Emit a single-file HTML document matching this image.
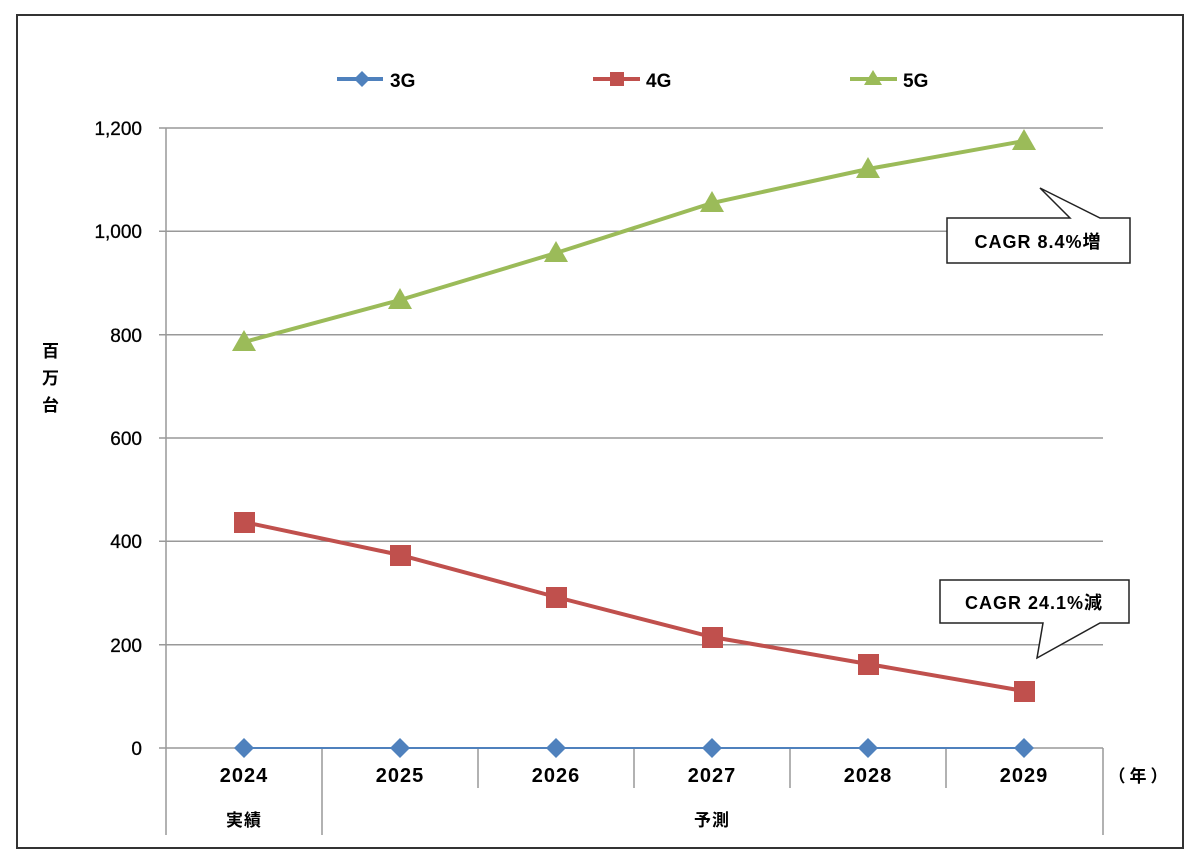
<!DOCTYPE html>
<html><head><meta charset="utf-8"><style>
html,body{margin:0;padding:0;background:#fff;}
svg{display:block;}
text{font-family:"Liberation Sans","Noto Sans CJK JP",sans-serif;fill:#000;}
</style></head><body>
<svg width="1200" height="865" viewBox="0 0 1200 865">
<rect x="17" y="15" width="1166" height="833" fill="#fff" stroke="#333" stroke-width="2"/>
<g stroke="#999" stroke-width="1.5">
<line x1="159" y1="128" x2="1103" y2="128"/>
<line x1="159" y1="231.3" x2="1103" y2="231.3"/>
<line x1="159" y1="334.7" x2="1103" y2="334.7"/>
<line x1="159" y1="438" x2="1103" y2="438"/>
<line x1="159" y1="541.3" x2="1103" y2="541.3"/>
<line x1="159" y1="644.7" x2="1103" y2="644.7"/>
<line x1="159" y1="748" x2="1103" y2="748"/>
<line x1="166" y1="128" x2="166" y2="835"/>
<line x1="322" y1="748" x2="322" y2="835"/>
<line x1="478" y1="748" x2="478" y2="788"/>
<line x1="634" y1="748" x2="634" y2="788"/>
<line x1="790" y1="748" x2="790" y2="788"/>
<line x1="946" y1="748" x2="946" y2="788"/>
<line x1="1103" y1="748" x2="1103" y2="835"/>
</g>
<g font-size="19" text-anchor="end" stroke="#000" stroke-width="0.3">
<text x="142" y="135">1,200</text>
<text x="142" y="238">1,000</text>
<text x="142" y="342">800</text>
<text x="142" y="445">600</text>
<text x="142" y="548">400</text>
<text x="142" y="652">200</text>
<text x="142" y="755">0</text>
</g>
<g font-size="17" font-weight="bold">
<text x="42" y="357">百</text><text x="42" y="384">万</text><text x="42" y="411">台</text>
</g>
<g font-size="20" font-weight="bold" text-anchor="middle" letter-spacing="1">
<text x="244" y="782">2024</text><text x="400" y="782">2025</text><text x="556" y="782">2026</text>
<text x="712" y="782">2027</text><text x="868" y="782">2028</text><text x="1024" y="782">2029</text>
<text x="244" y="826" font-size="17">実績</text><text x="712" y="826" font-size="17">予測</text>
<text x="1140" y="782" font-size="17" letter-spacing="4">（年）</text>
</g>
<!-- 3G -->
<polyline points="244,748 400,748 556,748 712,748 868,748 1024,748" fill="none" stroke="#4f81bd" stroke-width="2"/>
<g fill="#4f81bd">
<path d="M244,738l10,10l-10,10l-10,-10z"/><path d="M400,738l10,10l-10,10l-10,-10z"/><path d="M556,738l10,10l-10,10l-10,-10z"/>
<path d="M712,738l10,10l-10,10l-10,-10z"/><path d="M868,738l10,10l-10,10l-10,-10z"/><path d="M1024,738l10,10l-10,10l-10,-10z"/>
</g>
<!-- 4G -->
<polyline points="244,522 400,555 556,597 712,637 868,664 1024,691" fill="none" stroke="#c0504d" stroke-width="4"/>
<g fill="#c0504d">
<rect x="234" y="512" width="21" height="21"/><rect x="390" y="545" width="21" height="21"/><rect x="546" y="587" width="21" height="21"/>
<rect x="702" y="627" width="21" height="21"/><rect x="858" y="654" width="21" height="21"/><rect x="1014" y="681" width="21" height="21"/>
</g>
<!-- 5G -->
<polyline points="244,342 400,300 556,253 712,203 868,169 1024,141" fill="none" stroke="#9bbb59" stroke-width="4"/>
<g fill="#9bbb59">
<path d="M244,330l12,21h-24z"/><path d="M400,288l12,21h-24z"/><path d="M556,241l12,21h-24z"/>
<path d="M712,191l12,21h-24z"/><path d="M868,157l12,21h-24z"/><path d="M1024,129l12,21h-24z"/>
</g>
<!-- legend -->
<line x1="337" y1="79" x2="383" y2="79" stroke="#4f81bd" stroke-width="4"/>
<path d="M362,71l8,8l-8,8l-8,-8z" fill="#4f81bd"/>
<text x="390" y="87" font-size="19" font-weight="bold">3G</text>
<line x1="593" y1="79" x2="640" y2="79" stroke="#c0504d" stroke-width="4"/>
<rect x="610" y="72" width="14" height="14" fill="#c0504d"/>
<text x="646" y="87" font-size="19" font-weight="bold">4G</text>
<line x1="850" y1="79" x2="897" y2="79" stroke="#9bbb59" stroke-width="4"/>
<path d="M873,70l9,15h-18z" fill="#9bbb59"/>
<text x="903" y="87" font-size="19" font-weight="bold">5G</text>
<!-- callouts -->
<path d="M947,218H1070L1040,188L1100,218H1130V263H947Z" fill="#fff" stroke="#222" stroke-width="1.5"/>
<text x="1038" y="248" font-size="18" text-anchor="middle" font-weight="bold" letter-spacing="1">CAGR 8.4%増</text>
<path d="M940,580H1129V623H1100L1037,658L1043,623H940Z" fill="#fff" stroke="#222" stroke-width="1.5"/>
<text x="1034" y="609" font-size="18" text-anchor="middle" font-weight="bold" letter-spacing="1">CAGR 24.1%減</text>
</svg>
</body></html>
